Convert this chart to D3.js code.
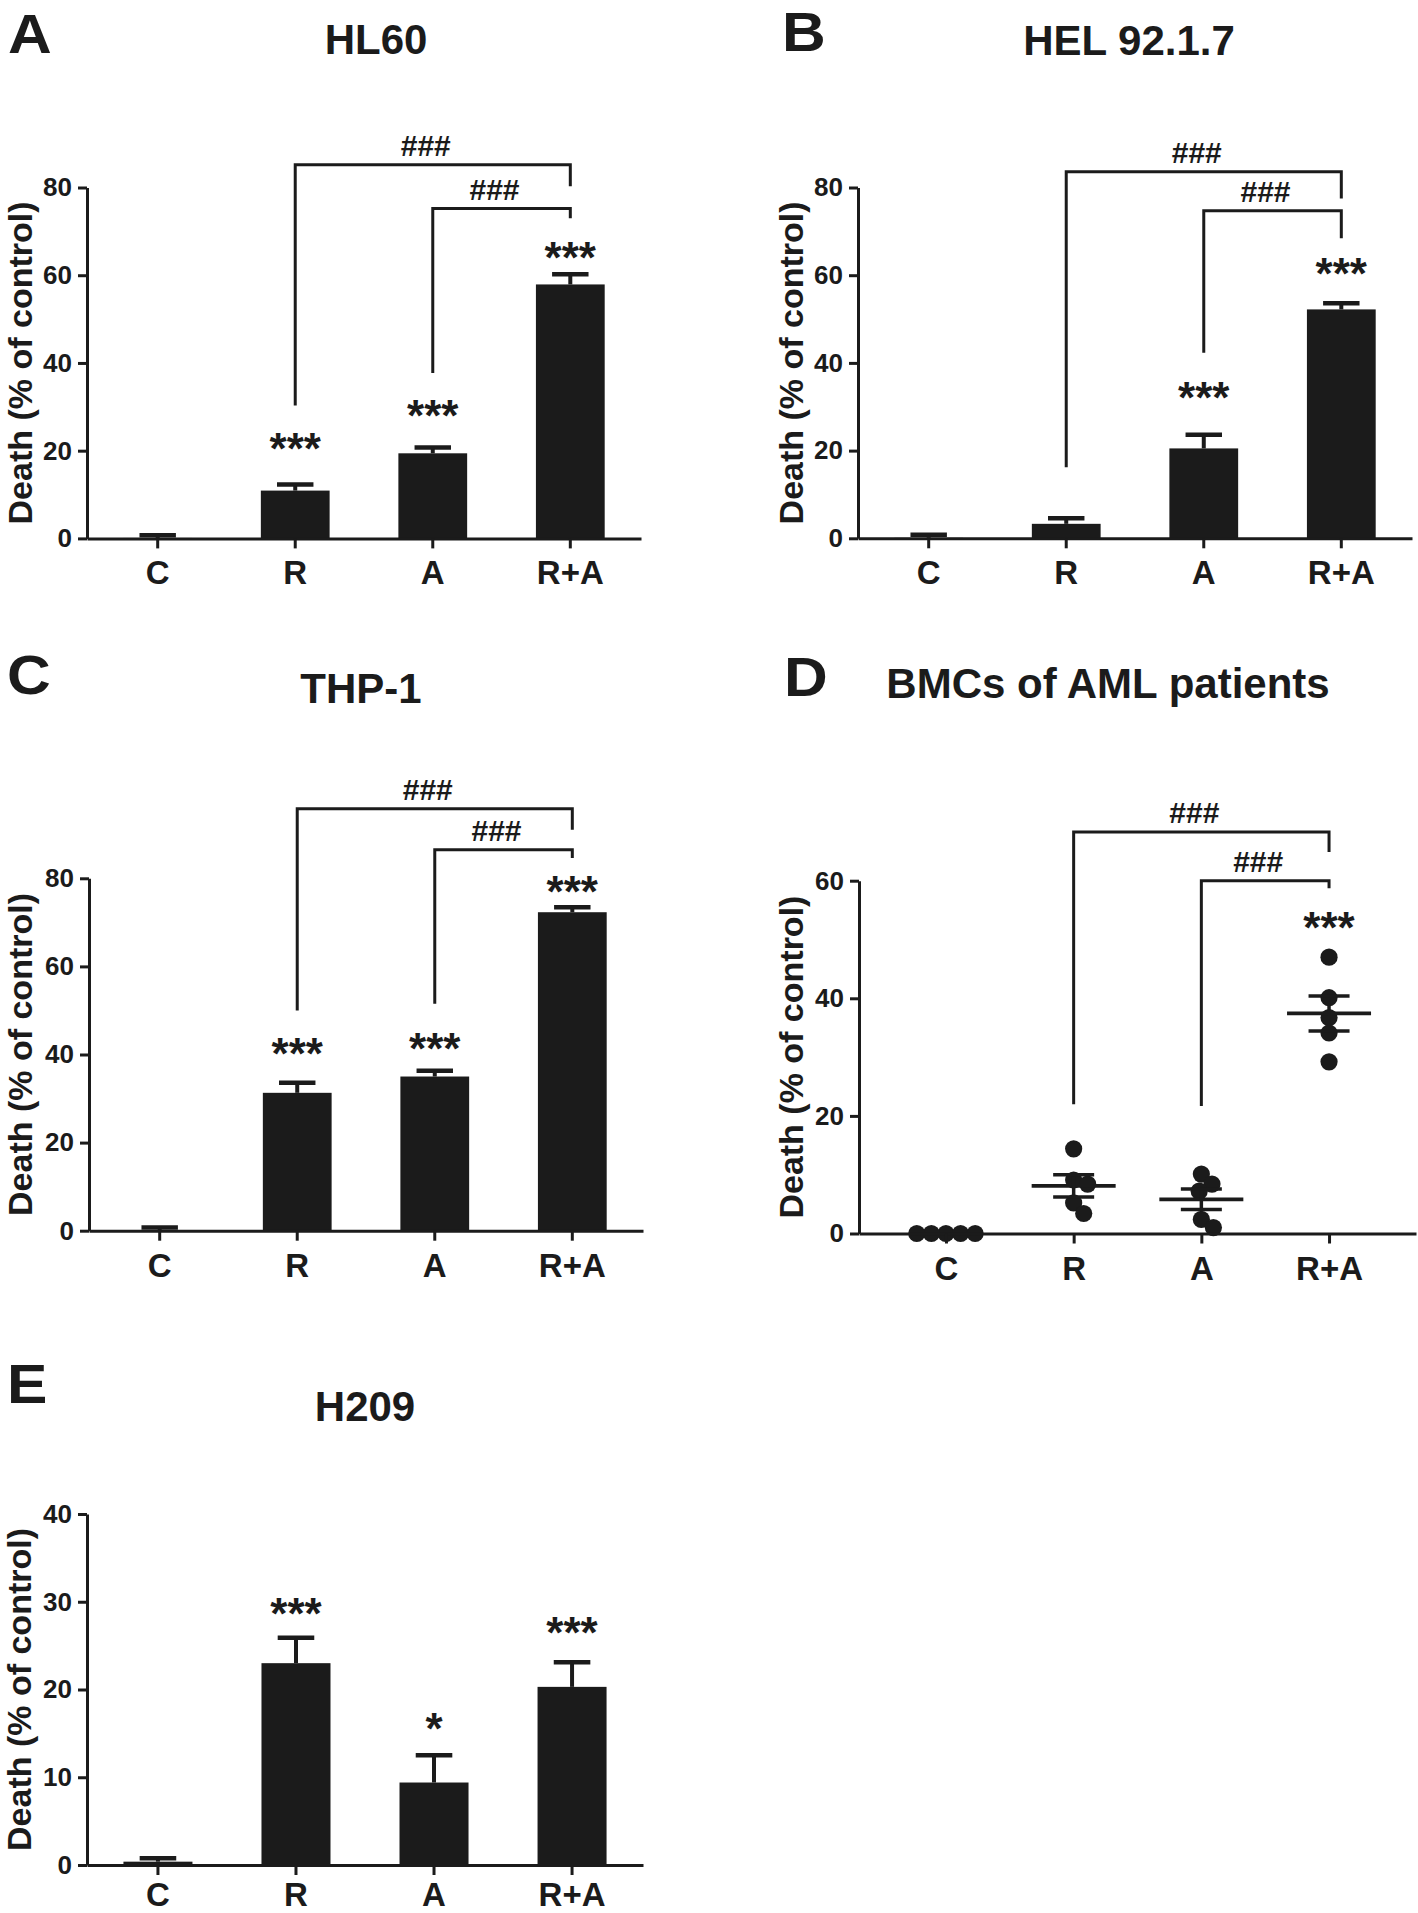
<!DOCTYPE html>
<html><head><meta charset="utf-8">
<script src="https://cdn.jsdelivr.net/npm/d3@7"></script>
<style>
body{margin:0;background:#fff}
text{font-family:"Liberation Sans",Arial,Helvetica,sans-serif;font-weight:bold;fill:#1b1b1b}
</style>
</head><body>
<svg id="fig" width="1418" height="1913"></svg>
<script>
// ---------------- DATA ----------------
const categories = ["C", "R", "A", "R+A"];
const ticks80 = [0, 20, 40, 60, 80];
const ticks60 = [0, 20, 40, 60];
const ticks40 = [0, 10, 20, 30, 40];
const yTitle = "Death (% of control)";

// A: HL60 (mean, SEM)
const hl60Mean = [0.1, 10.9, 19.4, 57.9];
const hl60Sem = [0.6, 1.4, 1.3, 2.3];
const hl60Stars = ["", "***", "***", "***"];
const hl60StarLevel = [null, 22.5, 29.9, 66.1];
const hl60Brackets = [
  {from: "R", to: "R+A", top: 85.2, fromEnd: 30.3, toEnd: 80.3, label: "###"},
  {from: "A", to: "R+A", top: 75.2, fromEnd: 37.7, toEnd: 73.0, label: "###"}
];

// B: HEL 92.1.7
const helMean = [0.1, 3.3, 20.5, 52.2];
const helSem = [0.7, 1.3, 3.1, 1.4];
const helStars = ["", "", "***", "***"];
const helStarLevel = [null, null, 34.1, 62.4];
const helBrackets = [
  {from: "R", to: "R+A", top: 83.6, fromEnd: 16.2, toEnd: 77.5, label: "###"},
  {from: "A", to: "R+A", top: 74.7, fromEnd: 42.3, toEnd: 68.4, label: "###"}
];

// C: THP-1
const thpMean = [0.1, 31.3, 35.0, 72.3];
const thpSem = [0.6, 2.3, 1.3, 1.1];
const thpStars = ["", "***", "***", "***"];
const thpStarLevel = [null, 42.2, 43.3, 79.0];
const thpBrackets = [
  {from: "R", to: "R+A", top: 95.8, fromEnd: 50.0, toEnd: 91.0, label: "###"},
  {from: "A", to: "R+A", top: 86.5, fromEnd: 51.5, toEnd: 84.6, label: "###"}
];

// D: BMCs of AML patients (individual patients)
const bmcC = [0, 0, 0, 0, 0];
const bmcR = [14.4, 9.1, 8.4, 5.2, 3.4];
const bmcA = [10.1, 8.4, 7.2, 2.4, 1.0];
const bmcRA = [47.0, 40.1, 36.7, 34.1, 29.2];
const bmcStars = ["", "", "", "***"];
const bmcStarLevel = [null, null, null, 53.6];
const bmcBrackets = [
  {from: "R", to: "R+A", top: 68.3, fromEnd: 22.0, toEnd: 64.9, label: "###"},
  {from: "A", to: "R+A", top: 60.0, fromEnd: 21.7, toEnd: 58.7, label: "###"}
];

// E: H209
const h209Mean = [0.38, 23.0, 9.4, 20.3];
const h209Sem = [0.38, 2.9, 3.1, 2.8];
const h209Stars = ["", "***", "*", "***"];
const h209StarLevel = [null, 29.6, 16.5, 27.5];

// ---------------- DRAWING ----------------
const INK = "#1b1b1b";
const svg = d3.select("#fig");
svg.append("rect").attr("width", 1418).attr("height", 1913).attr("fill", "#fff");

function frame(L, y, x, yTicks) {
  const g = svg.append("g");
  // panel letter and title
  g.append("text").attr("transform", `translate(${L.letterX},${L.letterY}) scale(1.1,1)`)
    .attr("font-size", 55).text(L.letter);
  g.append("text").attr("x", L.titleX).attr("y", L.titleY).attr("font-size", 42)
    .attr("text-anchor", "middle").text(L.title);
  // y axis
  const ya = g.append("g").attr("transform", `translate(${L.x0},0)`)
    .call(d3.axisLeft(y).tickValues(yTicks).tickSize(9).tickSizeOuter(0).tickPadding(6));
  ya.select(".domain").attr("stroke", INK).attr("stroke-width", 3);
  ya.selectAll(".tick line").attr("stroke", INK).attr("stroke-width", 3);
  ya.selectAll(".tick text").attr("font-size", 26).attr("fill", INK)
    .style("font-family", '"Liberation Sans",Arial,sans-serif').style("font-weight", "bold");
  // x axis
  const xa = g.append("g").attr("transform", `translate(0,${L.y0})`)
    .call(d3.axisBottom(x).tickSize(10).tickSizeOuter(0));
  xa.select(".domain").attr("stroke", INK).attr("stroke-width", 3);
  xa.selectAll(".tick line").attr("stroke", INK).attr("stroke-width", 3);
  xa.selectAll(".tick text").attr("font-size", 33).attr("fill", INK).attr("y", L.xlabelOffset || 46).attr("dy", 0)
    .style("font-family", '"Liberation Sans",Arial,sans-serif').style("font-weight", "bold");
  // y title
  g.append("text").attr("transform", `translate(${L.ytitleX},${(L.y0 + L.y1) / 2}) rotate(-90)`)
    .attr("text-anchor", "middle").attr("font-size", 34).text(yTitle);
  return g;
}

function center(x, c) {
  return x.bandwidth ? x(c) + x.bandwidth() / 2 : x(c);
}

function annotate(g, x, y, stars, starLevel, brackets) {
  g.selectAll(null).data(categories.filter((c, i) => stars[i])).join("text")
    .attr("x", c => center(x, c))
    .attr("y", c => y(starLevel[categories.indexOf(c)]))
    .attr("dy", "0.55em").attr("text-anchor", "middle").attr("font-size", 44)
    .text(c => stars[categories.indexOf(c)]);
  (brackets || []).forEach(b => {
    const xl = center(x, b.from), xr = center(x, b.to);
    g.append("path")
      .attr("d", `M${xl},${y(b.fromEnd)}V${y(b.top)}H${xr}V${y(b.toEnd)}`)
      .attr("fill", "none").attr("stroke", INK).attr("stroke-width", 3);
    g.append("text").attr("x", (xl + xr) / 2 - 7).attr("y", y(b.top) - 9)
      .attr("text-anchor", "middle").attr("font-size", 30).text(b.label);
  });
}

function barPanel(L, mean, sem, yMax, yTicks, stars, starLevel, brackets) {
  const x = d3.scaleBand().domain(categories).range([L.x0, L.x1]).paddingInner(0.5).paddingOuter(0.264);
  const y = d3.scaleLinear().domain([0, yMax]).range([L.y0, L.y1]);
  const g = svg.append("g");
  const bw = x.bandwidth();
  const capW = bw * 0.53;
  g.selectAll("rect.bar").data(categories).join("rect").attr("class", "bar")
    .attr("x", c => x(c)).attr("width", bw)
    .attr("y", (c, i) => y(mean[i])).attr("height", (c, i) => y(0) - y(mean[i]))
    .attr("fill", INK);
  g.selectAll("line.stem").data(categories).join("line").attr("class", "stem")
    .attr("x1", c => center(x, c)).attr("x2", c => center(x, c))
    .attr("y1", (c, i) => y(mean[i])).attr("y2", (c, i) => y(mean[i] + sem[i]))
    .attr("stroke", INK).attr("stroke-width", 4);
  g.selectAll("line.cap").data(categories).join("line").attr("class", "cap")
    .attr("x1", c => center(x, c) - capW / 2).attr("x2", c => center(x, c) + capW / 2)
    .attr("y1", (c, i) => y(mean[i] + sem[i])).attr("y2", (c, i) => y(mean[i] + sem[i]))
    .attr("stroke", INK).attr("stroke-width", 4.5);
  const f = frame(L, y, x, yTicks);
  annotate(f, x, y, stars, starLevel, brackets);
}

function swarm(values, y, minDist) {
  const order = values.map((v, i) => i).sort((a, b) => values[b] - values[a]);
  const placed = [];
  const out = new Array(values.length);
  order.forEach(i => {
    const py = y(values[i]);
    const cands = [0];
    placed.forEach(p => {
      const dy = Math.abs(p.y - py);
      if (dy < minDist) {
        const dx = Math.sqrt(minDist * minDist - dy * dy);
        cands.push(p.x + dx, p.x - dx);
      }
    });
    cands.sort((a, b) => Math.abs(a) - Math.abs(b) || b - a);
    const cx = cands.find(c => placed.every(p => (p.x - c) ** 2 + (p.y - py) ** 2 >= minDist * minDist - 1e-3));
    placed.push({x: cx, y: py});
    out[i] = cx;
  });
  return out;
}

function scatterPanel(L, groups, yMax, yTicks, stars, starLevel, brackets) {
  const x = d3.scalePoint().domain(categories).range([L.x0, L.x1]).padding(0.681);
  const y = d3.scaleLinear().domain([0, yMax]).range([L.y0, L.y1]);
  const g = svg.append("g");
  const f = frame(L, y, x, yTicks);
  categories.forEach((c, gi) => {
    const vals = groups[gi];
    const offs = swarm(vals, y, 14.6);
    g.selectAll(null).data(vals).join("circle")
      .attr("cx", (v, i) => x(c) + offs[i]).attr("cy", v => y(v)).attr("r", 8.6).attr("fill", INK);
    const m = d3.mean(vals);
    const se = d3.deviation(vals) / Math.sqrt(vals.length) || 0;
    if (se > 0) {
      g.append("line").attr("x1", x(c) - 42).attr("x2", x(c) + 42).attr("y1", y(m)).attr("y2", y(m))
        .attr("stroke", INK).attr("stroke-width", 3.8);
      g.append("line").attr("x1", x(c)).attr("x2", x(c)).attr("y1", y(m - se)).attr("y2", y(m + se))
        .attr("stroke", INK).attr("stroke-width", 3.5);
      [m - se, m + se].forEach(v => g.append("line").attr("x1", x(c) - 20.5).attr("x2", x(c) + 20.5)
        .attr("y1", y(v)).attr("y2", y(v)).attr("stroke", INK).attr("stroke-width", 3.5));
    }
  });
  annotate(f, x, y, stars, starLevel, brackets);
}

barPanel({letter: "A", letterX: 8, letterY: 53, title: "HL60", titleX: 376, titleY: 54,
  x0: 87, x1: 641, y0: 538.4, y1: 187.5, ytitleX: 32},
  hl60Mean, hl60Sem, 80, ticks80, hl60Stars, hl60StarLevel, hl60Brackets);

barPanel({letter: "B", letterX: 782, letterY: 51, title: "HEL 92.1.7", titleX: 1129, titleY: 55,
  x0: 858, x1: 1412, y0: 538.3, y1: 187.5, ytitleX: 803},
  helMean, helSem, 80, ticks80, helStars, helStarLevel, helBrackets);

barPanel({letter: "C", letterX: 7, letterY: 694, title: "THP-1", titleX: 361, titleY: 703,
  x0: 89, x1: 643, y0: 1230.7, y1: 878.3, ytitleX: 32},
  thpMean, thpSem, 80, ticks80, thpStars, thpStarLevel, thpBrackets);

scatterPanel({letter: "D", letterX: 784, letterY: 696, title: "BMCs of AML patients", titleX: 1108, titleY: 698,
  x0: 859, x1: 1416, y0: 1233.5, y1: 880.7, ytitleX: 803},
  [bmcC, bmcR, bmcA, bmcRA], 60, ticks60, bmcStars, bmcStarLevel, bmcBrackets);

barPanel({letter: "E", letterX: 7, letterY: 1403, title: "H209", titleX: 365, titleY: 1421,
  x0: 87, x1: 643, y0: 1865, y1: 1514, ytitleX: 31, xlabelOffset: 41},
  h209Mean, h209Sem, 40, ticks40, h209Stars, h209StarLevel, null);
</script>
</body></html>
